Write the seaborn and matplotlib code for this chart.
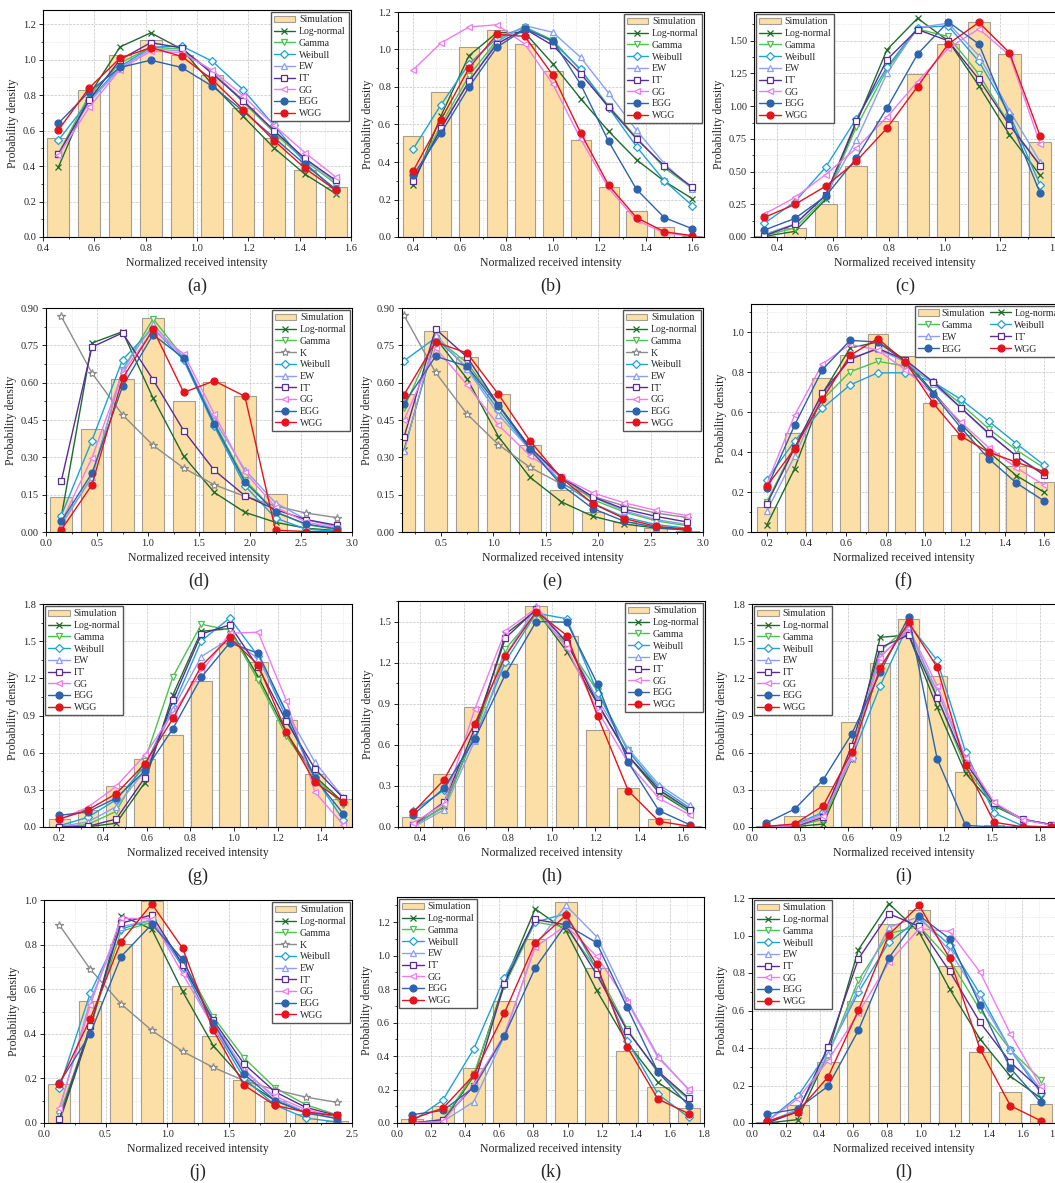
import matplotlib
matplotlib.use("Agg")
import matplotlib.pyplot as plt
from matplotlib.lines import Line2D
from matplotlib.patches import Patch
from matplotlib.ticker import MultipleLocator, FormatStrFormatter
import seaborn as sns

# ---------------- data ----------------
# (a)
a_x = [0.46, 0.58, 0.70, 0.82, 0.94, 1.06, 1.18, 1.30, 1.42, 1.54]
a_sim = [0.56, 0.83, 1.024, 1.112, 1.024, 0.914, 0.726, 0.557, 0.379, 0.284]
a_lognormal = [0.394, 0.80, 1.072, 1.151, 1.06, 0.86, 0.68, 0.502, 0.355, 0.245]
a_gamma = [0.47, 0.80, 0.98, 1.07, 1.06, 0.93, 0.76, 0.59, 0.43, 0.30]
a_weibull = [0.546, 0.77, 0.96, 1.07, 1.077, 0.991, 0.83, 0.63, 0.42, 0.26]
a_ew = [0.47, 0.76, 0.95, 1.06, 1.05, 0.93, 0.77, 0.60, 0.44, 0.31]
a_gammagamma = [0.467, 0.773, 1.00, 1.096, 1.066, 0.92, 0.768, 0.60, 0.443, 0.32]
a_gg = [0.46, 0.731, 0.944, 1.048, 1.04, 0.94, 0.795, 0.63, 0.476, 0.339]
a_egg = [0.641, 0.82, 0.956, 0.997, 0.956, 0.85, 0.71, 0.56, 0.41, 0.27]
a_wgg = [0.603, 0.841, 1.008, 1.068, 1.019, 0.887, 0.718, 0.544, 0.388, 0.264]

# (b)
b_x = [0.40, 0.52, 0.64, 0.76, 0.88, 1.00, 1.12, 1.24, 1.36, 1.48, 1.60]
b_sim = [0.539, 0.772, 1.015, 1.104, 1.029, 0.887, 0.516, 0.267, 0.139, 0.052, 0.004]
b_lognormal = [0.276, 0.647, 0.967, 1.09, 1.09, 0.924, 0.738, 0.564, 0.412, 0.297, 0.204]
b_gamma = [0.30, 0.60, 0.86, 1.05, 1.12, 1.05, 0.89, 0.70, 0.53, 0.368, 0.26]
b_weibull = [0.469, 0.706, 0.923, 1.06, 1.12, 1.04, 0.894, 0.69, 0.482, 0.299, 0.167]
b_ew = [0.31, 0.58, 0.83, 1.04, 1.127, 1.092, 0.958, 0.768, 0.569, 0.391, 0.256]
b_gammagamma = [0.299, 0.58, 0.83, 1.03, 1.11, 1.022, 0.871, 0.693, 0.523, 0.379, 0.265]
b_gg = [0.892, 1.035, 1.12, 1.132, 1.029, 0.816, 0.523, 0.26, 0.089, 0.021, 0.004]
b_egg = [0.33, 0.555, 0.80, 1.012, 1.109, 1.047, 0.814, 0.51, 0.254, 0.103, 0.044]
b_wgg = [0.352, 0.626, 0.901, 1.081, 1.07, 0.864, 0.555, 0.276, 0.103, 0.028, 0.007]

# (c)
c_x = [0.353, 0.463, 0.573, 0.683, 0.793, 0.903, 1.013, 1.123, 1.233, 1.343]
c_sim = [0.008, 0.071, 0.256, 0.54, 0.883, 1.246, 1.475, 1.642, 1.398, 0.728]
c_lognormal = [0.005, 0.043, 0.287, 0.87, 1.431, 1.672, 1.50, 1.157, 0.782, 0.472]
c_gamma = [0.01, 0.07, 0.30, 0.84, 1.28, 1.59, 1.533, 1.246, 0.86, 0.55]
c_weibull = [0.104, 0.27, 0.533, 0.904, 1.297, 1.60, 1.614, 1.343, 0.94, 0.398]
c_ew = [0.02, 0.10, 0.32, 0.739, 1.251, 1.60, 1.634, 1.386, 0.967, 0.576]
c_gammagamma = [0.01, 0.096, 0.32, 0.883, 1.355, 1.586, 1.50, 1.206, 0.855, 0.546]
c_gg = [0.175, 0.302, 0.477, 0.678, 0.916, 1.188, 1.442, 1.591, 1.39, 0.713]
c_egg = [0.053, 0.142, 0.312, 0.601, 0.985, 1.398, 1.645, 1.475, 0.911, 0.335]
c_wgg = [0.15, 0.249, 0.388, 0.579, 0.832, 1.15, 1.475, 1.64, 1.409, 0.772]

# (d)
d_x = [0.15, 0.45, 0.75, 1.05, 1.35, 1.65, 1.95, 2.25, 2.55, 2.85]
d_sim = [0.141, 0.414, 0.615, 0.86, 0.526, 0.604, 0.546, 0.154, 0.0, 0.0]
d_lognormal = [0.06, 0.759, 0.805, 0.538, 0.304, 0.159, 0.079, 0.039, 0.015, 0.006]
d_gamma = [0.03, 0.22, 0.65, 0.857, 0.70, 0.44, 0.21, 0.08, 0.03, 0.01]
d_k = [0.866, 0.639, 0.471, 0.348, 0.257, 0.19, 0.143, 0.105, 0.076, 0.058]
d_weibull = [0.066, 0.367, 0.692, 0.82, 0.69, 0.425, 0.186, 0.056, 0.012, 0.002]
d_ew = [0.03, 0.22, 0.65, 0.834, 0.70, 0.45, 0.25, 0.117, 0.05, 0.02]
d_gammagamma = [0.205, 0.743, 0.80, 0.612, 0.407, 0.248, 0.146, 0.09, 0.05, 0.027]
d_gg = [0.04, 0.297, 0.64, 0.81, 0.716, 0.474, 0.24, 0.10, 0.04, 0.015]
d_egg = [0.043, 0.236, 0.585, 0.793, 0.698, 0.434, 0.201, 0.08, 0.032, 0.012]
d_wgg = [0.009, 0.189, 0.617, 0.814, 0.561, 0.607, 0.545, 0.007, 0.002, 0.0]

# (e)
e_x = [0.15, 0.45, 0.75, 1.05, 1.35, 1.65, 1.95, 2.25, 2.55, 2.85]
e_sim = [0.554, 0.806, 0.703, 0.553, 0.348, 0.169, 0.082, 0.039, 0.015, 0.005]
e_lognormal = [0.331, 0.78, 0.616, 0.383, 0.22, 0.121, 0.063, 0.032, 0.016, 0.008]
e_gamma = [0.50, 0.78, 0.68, 0.51, 0.34, 0.22, 0.13, 0.08, 0.045, 0.025]
e_k = [0.87, 0.641, 0.474, 0.351, 0.26, 0.193, 0.143, 0.105, 0.076, 0.058]
e_weibull = [0.688, 0.78, 0.66, 0.49, 0.33, 0.20, 0.115, 0.06, 0.03, 0.015]
e_ew = [0.324, 0.793, 0.655, 0.471, 0.33, 0.22, 0.14, 0.085, 0.05, 0.03]
e_gammagamma = [0.382, 0.816, 0.703, 0.51, 0.34, 0.22, 0.141, 0.092, 0.063, 0.04]
e_gg = [0.45, 0.739, 0.592, 0.429, 0.307, 0.22, 0.157, 0.117, 0.087, 0.066]
e_egg = [0.516, 0.706, 0.666, 0.508, 0.332, 0.189, 0.094, 0.043, 0.019, 0.008]
e_wgg = [0.552, 0.763, 0.719, 0.553, 0.366, 0.216, 0.114, 0.054, 0.023, 0.011]

# (f)
f_x = [0.20, 0.34, 0.48, 0.62, 0.76, 0.90, 1.04, 1.18, 1.32, 1.46, 1.60]
f_sim = [0.125, 0.496, 0.768, 0.883, 0.988, 0.88, 0.643, 0.484, 0.396, 0.329, 0.25]
f_lognormal = [0.035, 0.316, 0.69, 0.92, 0.95, 0.86, 0.70, 0.54, 0.40, 0.282, 0.199]
f_gamma = [0.15, 0.43, 0.66, 0.801, 0.853, 0.83, 0.75, 0.64, 0.516, 0.41, 0.32]
f_weibull = [0.262, 0.454, 0.618, 0.735, 0.796, 0.796, 0.75, 0.663, 0.554, 0.442, 0.334]
f_ew = [0.104, 0.379, 0.68, 0.87, 0.913, 0.85, 0.74, 0.62, 0.49, 0.38, 0.29]
f_gammagamma = [0.14, 0.42, 0.696, 0.863, 0.918, 0.86, 0.75, 0.621, 0.494, 0.379, 0.284]
f_gg = [0.24, 0.583, 0.84, 0.938, 0.91, 0.81, 0.69, 0.549, 0.422, 0.321, 0.235]
f_egg = [0.219, 0.534, 0.811, 0.958, 0.95, 0.85, 0.691, 0.521, 0.367, 0.245, 0.155]
f_wgg = [0.229, 0.417, 0.663, 0.883, 0.967, 0.851, 0.644, 0.479, 0.399, 0.349, 0.302]

# (g)
g_x = [0.20, 0.33, 0.46, 0.59, 0.72, 0.85, 0.98, 1.11, 1.24, 1.37, 1.50]
g_sim = [0.062, 0.137, 0.333, 0.551, 0.742, 1.18, 1.483, 1.33, 0.862, 0.43, 0.228]
g_lognormal = [0.0, 0.002, 0.03, 0.355, 1.067, 1.58, 1.60, 1.214, 0.76, 0.41, 0.20]
g_gamma = [0.0, 0.02, 0.126, 0.53, 1.212, 1.636, 1.59, 1.185, 0.731, 0.40, 0.175]
g_weibull = [0.01, 0.078, 0.22, 0.49, 0.97, 1.502, 1.687, 1.38, 0.88, 0.40, 0.056]
g_ew = [0.005, 0.04, 0.164, 0.45, 0.951, 1.376, 1.52, 1.36, 0.93, 0.524, 0.239]
g_gammagamma = [0.001, 0.005, 0.064, 0.395, 1.024, 1.558, 1.631, 1.29, 0.852, 0.47, 0.234]
g_gg = [0.06, 0.159, 0.328, 0.578, 0.92, 1.25, 1.564, 1.572, 1.018, 0.282, 0.019]
g_egg = [0.094, 0.121, 0.234, 0.449, 0.795, 1.209, 1.486, 1.402, 0.921, 0.392, 0.107]
g_wgg = [0.064, 0.137, 0.269, 0.508, 0.876, 1.30, 1.531, 1.308, 0.763, 0.36, 0.204]

# (h)
h_x = [0.37, 0.51, 0.65, 0.79, 0.93, 1.07, 1.21, 1.35, 1.49, 1.63]
h_sim = [0.073, 0.387, 0.873, 1.189, 1.614, 1.391, 0.705, 0.284, 0.056, 0.005]
h_lognormal = [0.01, 0.15, 0.68, 1.408, 1.58, 1.281, 0.90, 0.52, 0.25, 0.11]
h_gamma = [0.01, 0.15, 0.68, 1.30, 1.56, 1.33, 0.99, 0.56, 0.27, 0.11]
h_weibull = [0.119, 0.27, 0.65, 1.208, 1.561, 1.52, 0.98, 0.552, 0.29, 0.14]
h_ew = [0.0, 0.126, 0.63, 1.25, 1.61, 1.35, 0.93, 0.571, 0.309, 0.16]
h_gammagamma = [0.017, 0.182, 0.72, 1.379, 1.59, 1.347, 0.904, 0.52, 0.272, 0.126]
h_gg = [0.029, 0.17, 0.861, 1.432, 1.597, 1.306, 0.85, 0.467, 0.209, 0.09]
h_egg = [0.09, 0.284, 0.644, 1.116, 1.50, 1.495, 1.043, 0.472, 0.119, 0.017]
h_wgg = [0.109, 0.345, 0.754, 1.25, 1.573, 1.398, 0.81, 0.265, 0.041, 0.005]

# (i)
i_x = [0.089, 0.267, 0.445, 0.623, 0.801, 0.979, 1.157, 1.335, 1.513, 1.691, 1.869]
i_sim = [0.005, 0.089, 0.333, 0.846, 1.322, 1.679, 1.217, 0.443, 0.02, 0.005, 0.0]
i_lognormal = [0.0, 0.003, 0.024, 0.55, 1.531, 1.55, 0.965, 0.433, 0.17, 0.06, 0.02]
i_gamma = [0.0, 0.005, 0.06, 0.56, 1.42, 1.62, 1.05, 0.48, 0.18, 0.06, 0.02]
i_weibull = [0.005, 0.02, 0.12, 0.556, 1.139, 1.639, 1.346, 0.605, 0.113, 0.01, 0.0]
i_ew = [0.0, 0.01, 0.11, 0.58, 1.38, 1.58, 1.10, 0.55, 0.19, 0.06, 0.02]
i_gammagamma = [0.0, 0.005, 0.078, 0.656, 1.448, 1.55, 1.045, 0.52, 0.19, 0.064, 0.019]
i_gg = [0.0, 0.01, 0.09, 0.56, 1.368, 1.604, 1.142, 0.556, 0.199, 0.059, 0.015]
i_egg = [0.032, 0.145, 0.382, 0.75, 1.249, 1.698, 0.551, 0.013, 0.0, 0.0, 0.0]
i_wgg = [0.005, 0.024, 0.172, 0.605, 1.287, 1.652, 1.29, 0.497, 0.038, 0.002, 0.0]

# (j)
j_x = [0.125, 0.375, 0.625, 0.875, 1.125, 1.375, 1.625, 1.875, 2.125, 2.375]
j_sim = [0.175, 0.548, 0.801, 0.996, 0.615, 0.388, 0.191, 0.098, 0.04, 0.01]
j_lognormal = [0.005, 0.42, 0.93, 0.869, 0.59, 0.346, 0.19, 0.10, 0.05, 0.03]
j_gamma = [0.04, 0.43, 0.86, 0.90, 0.73, 0.475, 0.291, 0.158, 0.082, 0.037]
j_k = [0.888, 0.69, 0.534, 0.415, 0.321, 0.249, 0.19, 0.149, 0.116, 0.093]
j_weibull = [0.157, 0.582, 0.87, 0.91, 0.70, 0.43, 0.20, 0.08, 0.022, 0.005]
j_ew = [0.06, 0.548, 0.88, 0.91, 0.71, 0.45, 0.24, 0.11, 0.05, 0.02]
j_gammagamma = [0.018, 0.433, 0.896, 0.933, 0.71, 0.46, 0.264, 0.14, 0.07, 0.034]
j_gg = [0.067, 0.527, 0.918, 0.916, 0.669, 0.43, 0.23, 0.12, 0.06, 0.03]
j_egg = [0.179, 0.40, 0.746, 0.891, 0.734, 0.448, 0.219, 0.10, 0.045, 0.02]
j_wgg = [0.175, 0.467, 0.813, 0.982, 0.784, 0.415, 0.169, 0.079, 0.049, 0.034]

# (k)
k_x = [0.09, 0.27, 0.45, 0.63, 0.81, 0.99, 1.17, 1.35, 1.53, 1.71]
k_sim = [0.024, 0.099, 0.327, 0.728, 1.101, 1.319, 0.928, 0.43, 0.214, 0.089]
k_lognormal = [0.0, 0.01, 0.28, 0.84, 1.279, 1.15, 0.793, 0.48, 0.242, 0.12]
k_gamma = [0.0, 0.02, 0.29, 0.82, 1.20, 1.17, 0.92, 0.56, 0.30, 0.14]
k_weibull = [0.01, 0.139, 0.442, 0.867, 1.20, 1.25, 0.92, 0.492, 0.173, 0.034]
k_ew = [0.0, 0.01, 0.127, 0.52, 1.06, 1.30, 1.114, 0.734, 0.40, 0.198]
k_gammagamma = [0.0, 0.02, 0.22, 0.833, 1.216, 1.184, 0.889, 0.551, 0.31, 0.149]
k_gg = [0.0, 0.01, 0.23, 0.53, 1.05, 1.18, 0.996, 0.724, 0.391, 0.202]
k_egg = [0.05, 0.075, 0.212, 0.522, 0.926, 1.186, 1.077, 0.69, 0.305, 0.103]
k_wgg = [0.024, 0.089, 0.286, 0.658, 1.075, 1.24, 0.948, 0.454, 0.143, 0.056]

# (l)
l_x = [0.09, 0.27, 0.45, 0.63, 0.81, 0.99, 1.17, 1.35, 1.53, 1.71]
l_sim = [0.005, 0.098, 0.324, 0.649, 1.063, 1.138, 0.839, 0.377, 0.164, 0.103]
l_lognormal = [0.0, 0.018, 0.37, 0.924, 1.17, 1.017, 0.715, 0.448, 0.249, 0.133]
l_gamma = [0.005, 0.07, 0.36, 0.761, 1.01, 1.05, 0.87, 0.604, 0.39, 0.231]
l_weibull = [0.01, 0.142, 0.38, 0.697, 0.964, 1.09, 0.95, 0.688, 0.39, 0.16]
l_ew = [0.005, 0.07, 0.37, 0.72, 1.044, 1.10, 0.92, 0.66, 0.391, 0.18]
l_gammagamma = [0.0, 0.06, 0.405, 0.875, 1.116, 1.049, 0.809, 0.537, 0.324, 0.178]
l_gg = [0.009, 0.128, 0.332, 0.587, 0.857, 1.036, 1.022, 0.805, 0.476, 0.196]
l_egg = [0.048, 0.075, 0.196, 0.494, 0.88, 1.106, 0.983, 0.628, 0.292, 0.11]
l_wgg = [0.009, 0.06, 0.245, 0.601, 1.004, 1.161, 0.878, 0.395, 0.092, 0.012]

# ---------------- styling ----------------
BAR_FACE = "#fbdfa6"
BAR_EDGE = "#a39d92"

STYLES = {
    "Log-normal": dict(color="#1f6b2e", marker="x", ms=5.0, fill=True),
    "Gamma":      dict(color="#4cc34c", marker="v", ms=5.0, fill=False),
    "K":          dict(color="#8c8c8c", marker="*", ms=6.0, fill=False),
    "Weibull":    dict(color="#1fa3d6", marker="D", ms=4.3, fill=False),
    "EW":         dict(color="#8b9ff5", marker="^", ms=5.0, fill=False),
    "ΓΓ":         dict(color="#5b2c92", marker="s", ms=4.5, fill=False),
    "GG":         dict(color="#f07af0", marker="<", ms=5.0, fill=False),
    "EGG":        dict(color="#2d63ad", marker="o", ms=5.0, fill=True),
    "WGG":        dict(color="#e3141c", marker="o", ms=5.0, fill=True),
}


def curves(ln, gam, wei, ew, gg2, gg, egg, wgg, k=None):
    out = [("Log-normal", ln), ("Gamma", gam)]
    if k is not None:
        out.append(("K", k))
    out += [("Weibull", wei), ("EW", ew), ("ΓΓ", gg2), ("GG", gg),
            ("EGG", egg), ("WGG", wgg)]
    return out


def line_kws(name):
    st = STYLES[name]
    face = st["color"] if st["fill"] else "white"
    return dict(color=st["color"], marker=st["marker"], markersize=st["ms"],
                markerfacecolor=face, markeredgecolor=st["color"],
                markeredgewidth=0.9, linewidth=1.0)


sns.set_style("ticks")
plt.rcParams["font.family"] = ["Liberation Serif", "DejaVu Serif"]
plt.rcParams["mathtext.fontset"] = "stix"

W, H = 1055, 1183
fig = plt.figure(figsize=(W / 100, H / 100), dpi=100)

# label, pixel box (left, top, right, bottom), x, bars, curves, xlim, xstep, ylim, ystep, yfmt, legend
panels = [
    ("a", (43, 10, 351, 237), a_x, a_sim,
     curves(a_lognormal, a_gamma, a_weibull, a_ew, a_gammagamma, a_gg, a_egg, a_wgg),
     (0.4, 1.6), 0.2, (0, 1.28), 0.2, "%.1f", "upper right"),
    ("b", (398, 12, 704, 237), b_x, b_sim,
     curves(b_lognormal, b_gamma, b_weibull, b_ew, b_gammagamma, b_gg, b_egg, b_wgg),
     (0.335, 1.65), 0.2, (0, 1.2), 0.2, "%.1f", "upper right"),
    ("c", (754, 12, 1056, 237), c_x, c_sim,
     curves(c_lognormal, c_gamma, c_weibull, c_ew, c_gammagamma, c_gg, c_egg, c_wgg),
     (0.316, 1.4), 0.2, (0, 1.72), 0.25, "%.2f", "upper left"),
    ("d", (46, 308, 352, 532), d_x, d_sim,
     curves(d_lognormal, d_gamma, d_weibull, d_ew, d_gammagamma, d_gg, d_egg, d_wgg, d_k),
     (0, 3.0), 0.5, (0, 0.9), 0.15, "%.2f", "upper right"),
    ("e", (402, 308, 703, 532), e_x, e_sim,
     curves(e_lognormal, e_gamma, e_weibull, e_ew, e_gammagamma, e_gg, e_egg, e_wgg, e_k),
     (0.13, 3.0), 0.5, (0, 0.9), 0.15, "%.2f", "upper right"),
    ("f", (751, 304, 1056, 532), f_x, f_sim,
     curves(f_lognormal, f_gamma, f_weibull, f_ew, f_gammagamma, f_gg, f_egg, f_wgg),
     (0.12, 1.66), 0.2, (0, 1.14), 0.2, "%.1f", "wide"),
    ("g", (43, 604, 352, 827), g_x, g_sim,
     curves(g_lognormal, g_gamma, g_weibull, g_ew, g_gammagamma, g_gg, g_egg, g_wgg),
     (0.125, 1.54), 0.2, (0, 1.8), 0.3, "%.1f", "upper left"),
    ("h", (398, 601, 705, 827), h_x, h_sim,
     curves(h_lognormal, h_gamma, h_weibull, h_ew, h_gammagamma, h_gg, h_egg, h_wgg),
     (0.3, 1.7), 0.2, (0, 1.65), 0.3, "%.1f", "upper right"),
    ("i", (752, 604, 1056, 827), i_x, i_sim,
     curves(i_lognormal, i_gamma, i_weibull, i_ew, i_gammagamma, i_gg, i_egg, i_wgg),
     (0, 1.9), 0.3, (0, 1.8), 0.3, "%.1f", "upper left"),
    ("j", (44, 900, 352, 1123), j_x, j_sim,
     curves(j_lognormal, j_gamma, j_weibull, j_ew, j_gammagamma, j_gg, j_egg, j_wgg, j_k),
     (0, 2.5), 0.5, (0, 1.0), 0.2, "%.1f", "upper right"),
    ("k", (397, 897, 704, 1123), k_x, k_sim,
     curves(k_lognormal, k_gamma, k_weibull, k_ew, k_gammagamma, k_gg, k_egg, k_wgg),
     (0, 1.8), 0.2, (0, 1.35), 0.2, "%.1f", "upper left"),
    ("l", (752, 898, 1056, 1123), l_x, l_sim,
     curves(l_lognormal, l_gamma, l_weibull, l_ew, l_gammagamma, l_gg, l_egg, l_wgg),
     (0, 1.8), 0.2, (0, 1.2), 0.2, "%.1f", "upper left"),
]

for tag, (l, t, r, b), x, sim, series, xlim, xstep, ylim, ystep, yfmt, leg in panels:
    ax = fig.add_axes([l / W, 1 - b / H, (r - l) / W, (b - t) / H])
    ax.set_axisbelow(True)

    sns.barplot(x=x, y=sim, native_scale=True, width=0.72, color=BAR_FACE,
                saturation=1, edgecolor=BAR_EDGE, linewidth=0.8,
                errorbar=None, ax=ax)
    for name, vals in series:
        sns.lineplot(x=x, y=vals, ax=ax, **line_kws(name))

    ax.set_xlim(*xlim)
    ax.set_ylim(*ylim)
    ax.xaxis.set_major_locator(MultipleLocator(xstep))
    ax.xaxis.set_minor_locator(MultipleLocator(xstep / 2))
    ax.yaxis.set_major_locator(MultipleLocator(ystep))
    ax.yaxis.set_minor_locator(MultipleLocator(ystep / 2))
    ax.xaxis.set_major_formatter(FormatStrFormatter("%.1f"))
    ax.yaxis.set_major_formatter(FormatStrFormatter(yfmt))

    ax.grid(True, which="major", linestyle="--", linewidth=0.5, color="#c4c4c4")
    ax.grid(True, which="minor", linestyle=":", linewidth=0.5, color="#d8d8d8")
    for sp in ax.spines.values():
        sp.set_visible(True)
        sp.set_linewidth(0.8)
        sp.set_color("black")
    ax.tick_params(which="major", direction="out", length=3, width=0.7,
                   labelsize=7.5, pad=2)
    ax.tick_params(which="minor", direction="out", length=1.6, width=0.6)

    ax.set_xlabel("Normalized received intensity", fontsize=8.5, labelpad=3)
    ax.set_ylabel("Probability density", fontsize=8.5, labelpad=3)

    handles = [Patch(facecolor=BAR_FACE, edgecolor=BAR_EDGE, linewidth=0.8,
                     label="Simulation")]
    for name, _ in series:
        handles.append(Line2D([], [], label=name, **line_kws(name)))

    if leg == "wide":
        blank = Line2D([], [], linestyle="none", marker="none", label=" ")
        byname = {h.get_label(): h for h in handles}
        # column-major order for a 3-column, 4-row layout
        order = [byname["Simulation"], byname["Gamma"], byname["EW"], byname["EGG"],
                 byname["Log-normal"], byname["Weibull"], byname["ΓΓ"], byname["WGG"],
                 blank, blank, byname["GG"], blank]
        ax.legend(handles=order, ncol=3, loc="upper left",
                  bbox_to_anchor=(0.53, 1.0), fontsize=7, frameon=True,
                  fancybox=False, edgecolor="#555555", framealpha=1,
                  handlelength=2.2, handletextpad=0.3, labelspacing=0.3,
                  columnspacing=0.5, borderpad=0.3, borderaxespad=0.2)
    else:
        ax.legend(handles=handles, loc=leg, fontsize=7, frameon=True,
                  fancybox=False, edgecolor="#555555", framealpha=1,
                  handlelength=2.2, handletextpad=0.4, labelspacing=0.28,
                  borderpad=0.3, borderaxespad=0.25)

    fig.text((l + r) / 2 / W, 1 - (b + 49) / H, f"({tag})", ha="center",
             va="center", fontsize=13)

fig.savefig("out.png", dpi=100)
